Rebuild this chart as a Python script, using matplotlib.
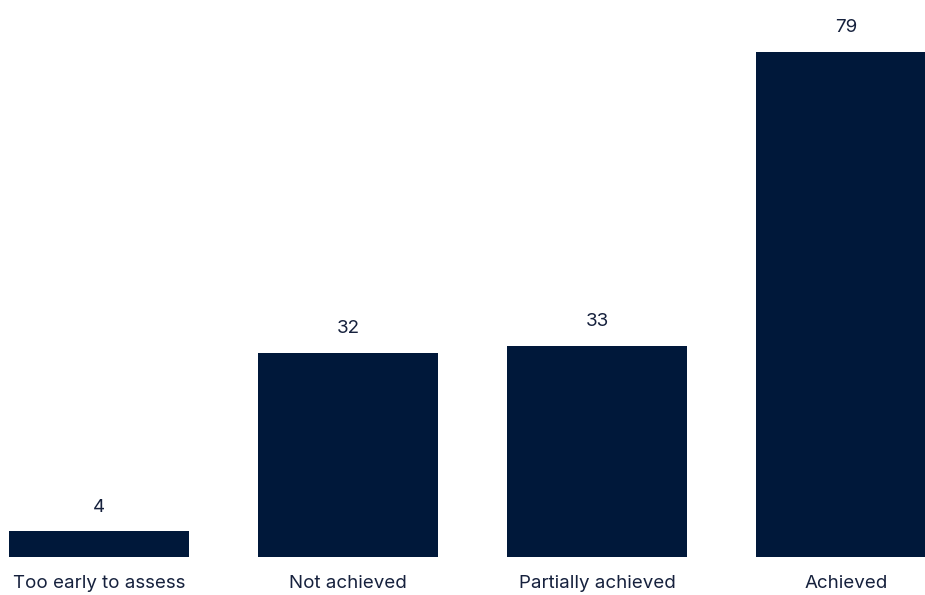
import matplotlib.pyplot as plt

categories = ["Too early to assess", "Not achieved", "Partially achieved", "Achieved"]
values = [4, 32, 33, 79]

bar_color = "#00183a"
text_color = "#16213d"

plt.rcParams['font.family'] = ['Inter', 'DejaVu Sans']

fig = plt.figure(figsize=(9.25, 5.95), dpi=100)
# axes fill the figure width, baseline sits 38 px above the bottom
ax = fig.add_axes([0, 38 / 595, 1, 557 / 595])

x = range(len(categories))
bars = ax.bar(x, values, width=0.723, color=bar_color)

ax.set_xlim(-99 / 249, 826 / 249)
ax.set_ylim(0, 557 / 6.39)

for b, v in zip(bars, values):
    ax.annotate(str(v), (b.get_x() + b.get_width() / 2, v),
                xytext=(0, 17.5), textcoords="offset points",
                ha="center", va="center", fontsize=13.5, color=text_color)

ax.set_xticks(list(x))
ax.set_xticklabels(categories, fontsize=13.5, color=text_color)
ax.tick_params(axis="x", length=0, pad=13)
ax.set_yticks([])
for s in ax.spines.values():
    s.set_visible(False)

fig.savefig("out.png", dpi=100)
